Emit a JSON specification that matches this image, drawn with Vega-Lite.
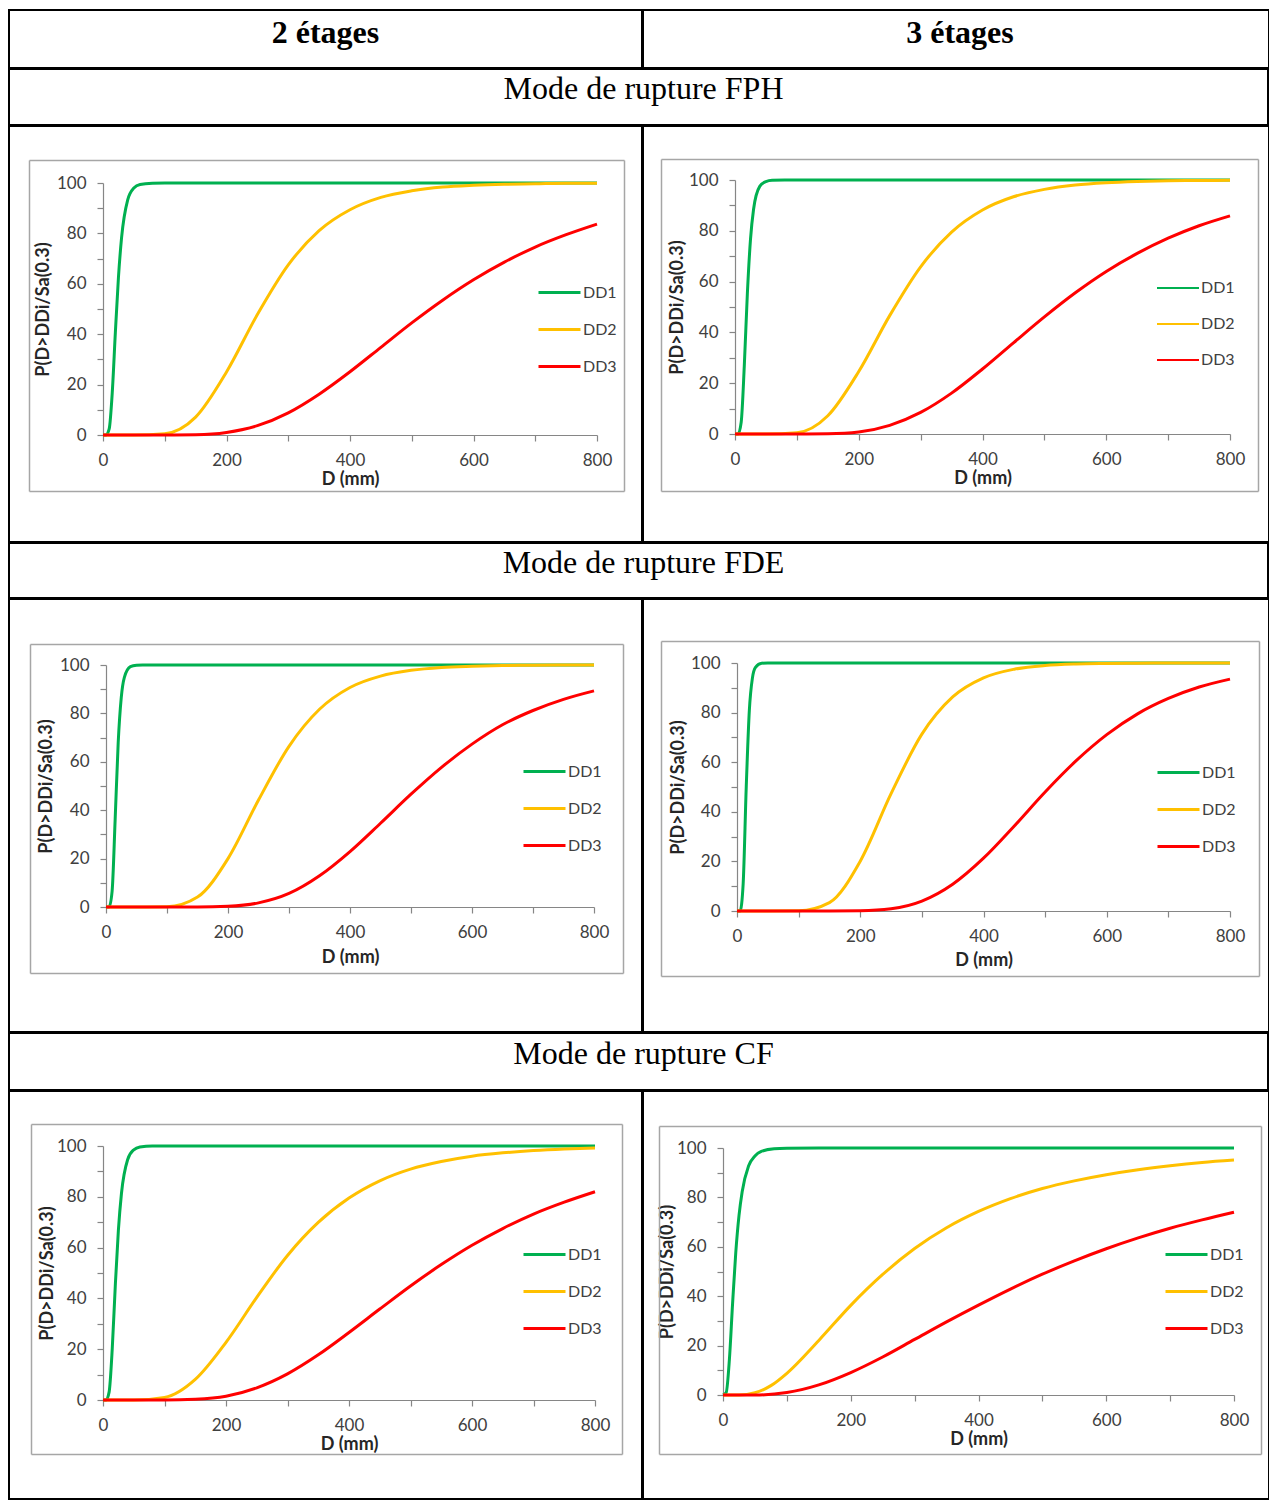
{
  "$schema": "https://vega.github.io/schema/vega-lite/v6.json",
  "padding": {"left": 8, "top": 9, "right": 0, "bottom": 0},
  "spacing": -3,
  "config": {
    "view": {"stroke": "#000000", "strokeWidth": 2},
    "axis": {"domainColor": "#868686", "domainWidth": 1.2, "tickColor": "#868686", "tickWidth": 1.2, "labelColor": "#404040", "labelFont": "Lato", "labelFontSize": 17, "titleFont": "Lato", "titleFontSize": 18, "titleFontWeight": "bold", "titleColor": "#262626", "grid": false, "labelOverlap": false, "labelFlush": false, "tickSize": 6, "labelPadding": 11},
    "legend": {"labelFont": "Lato", "labelFontSize": 16, "labelColor": "#404040", "symbolType": "stroke", "symbolSize": 1764, "symbolStrokeWidth": 3, "rowPadding": 6, "labelOffset": 1, "padding": 0},
    "text": {"font": "Liberation Serif", "fontSize": 32, "color": "#000000", "baseline": "alphabetic"}
  },
  "resolve": {"scale": {"color": "independent"}, "legend": {"color": "independent"}},
  "datasets": {
    "fph2": [
      {"DD":"DD1","D":0,"P":0},{"DD":"DD1","D":5,"P":0},{"DD":"DD1","D":10,"P":2.4},{"DD":"DD1","D":15,"P":16.9},{"DD":"DD1","D":20,"P":40.6},{"DD":"DD1","D":25,"P":62.5},{"DD":"DD1","D":30,"P":78.1},{"DD":"DD1","D":40,"P":93.3},{"DD":"DD1","D":50,"P":98},{"DD":"DD1","D":60,"P":99.4},{"DD":"DD1","D":80,"P":99.9},{"DD":"DD1","D":100,"P":100},{"DD":"DD1","D":200,"P":100},{"DD":"DD1","D":400,"P":100},{"DD":"DD1","D":600,"P":100},{"DD":"DD1","D":800,"P":100},
      {"DD":"DD2","D":0,"P":0},{"DD":"DD2","D":50,"P":0},{"DD":"DD2","D":100,"P":0.5},{"DD":"DD2","D":150,"P":7.1},{"DD":"DD2","D":200,"P":25},{"DD":"DD2","D":250,"P":47.8},{"DD":"DD2","D":300,"P":67.5},{"DD":"DD2","D":350,"P":81.1},{"DD":"DD2","D":400,"P":89.4},{"DD":"DD2","D":450,"P":94.3},{"DD":"DD2","D":500,"P":96.9},{"DD":"DD2","D":550,"P":98.4},{"DD":"DD2","D":600,"P":99.1},{"DD":"DD2","D":650,"P":99.5},{"DD":"DD2","D":700,"P":99.7},{"DD":"DD2","D":750,"P":99.9},{"DD":"DD2","D":800,"P":99.9},
      {"DD":"DD3","D":0,"P":0},{"DD":"DD3","D":50,"P":0},{"DD":"DD3","D":100,"P":0},{"DD":"DD3","D":150,"P":0.1},{"DD":"DD3","D":200,"P":1},{"DD":"DD3","D":250,"P":3.7},{"DD":"DD3","D":300,"P":8.8},{"DD":"DD3","D":350,"P":16.2},{"DD":"DD3","D":400,"P":25.1},{"DD":"DD3","D":450,"P":34.8},{"DD":"DD3","D":500,"P":44.5},{"DD":"DD3","D":550,"P":53.5},{"DD":"DD3","D":600,"P":61.6},{"DD":"DD3","D":650,"P":68.6},{"DD":"DD3","D":700,"P":74.6},{"DD":"DD3","D":750,"P":79.5},{"DD":"DD3","D":800,"P":83.7}
    ],
    "fph3": [
      {"DD":"DD1","D":0,"P":0},{"DD":"DD1","D":5,"P":0},{"DD":"DD1","D":10,"P":4.6},{"DD":"DD1","D":15,"P":26.7},{"DD":"DD1","D":20,"P":55.4},{"DD":"DD1","D":25,"P":76.5},{"DD":"DD1","D":30,"P":88.5},{"DD":"DD1","D":40,"P":97.5},{"DD":"DD1","D":50,"P":99.4},{"DD":"DD1","D":60,"P":99.9},{"DD":"DD1","D":80,"P":100},{"DD":"DD1","D":100,"P":100},{"DD":"DD1","D":200,"P":100},{"DD":"DD1","D":400,"P":100},{"DD":"DD1","D":600,"P":100},{"DD":"DD1","D":800,"P":100},
      {"DD":"DD2","D":0,"P":0},{"DD":"DD2","D":50,"P":0},{"DD":"DD2","D":100,"P":0.5},{"DD":"DD2","D":150,"P":7.2},{"DD":"DD2","D":200,"P":24.6},{"DD":"DD2","D":250,"P":46.6},{"DD":"DD2","D":300,"P":65.8},{"DD":"DD2","D":350,"P":79.5},{"DD":"DD2","D":400,"P":88.2},{"DD":"DD2","D":450,"P":93.4},{"DD":"DD2","D":500,"P":96.3},{"DD":"DD2","D":550,"P":98},{"DD":"DD2","D":600,"P":98.9},{"DD":"DD2","D":650,"P":99.4},{"DD":"DD2","D":700,"P":99.7},{"DD":"DD2","D":750,"P":99.8},{"DD":"DD2","D":800,"P":99.9},
      {"DD":"DD3","D":0,"P":0},{"DD":"DD3","D":50,"P":0},{"DD":"DD3","D":100,"P":0},{"DD":"DD3","D":150,"P":0.1},{"DD":"DD3","D":200,"P":0.8},{"DD":"DD3","D":250,"P":3.4},{"DD":"DD3","D":300,"P":8.5},{"DD":"DD3","D":350,"P":16.1},{"DD":"DD3","D":400,"P":25.6},{"DD":"DD3","D":450,"P":35.9},{"DD":"DD3","D":500,"P":46.1},{"DD":"DD3","D":550,"P":55.6},{"DD":"DD3","D":600,"P":64},{"DD":"DD3","D":650,"P":71.1},{"DD":"DD3","D":700,"P":77.1},{"DD":"DD3","D":750,"P":82},{"DD":"DD3","D":800,"P":85.9}
    ],
    "fde2": [
      {"DD":"DD1","D":0,"P":0},{"DD":"DD1","D":5,"P":0},{"DD":"DD1","D":10,"P":6.5},{"DD":"DD1","D":15,"P":36.1},{"DD":"DD1","D":20,"P":67.9},{"DD":"DD1","D":25,"P":86.5},{"DD":"DD1","D":30,"P":94.8},{"DD":"DD1","D":40,"P":99.3},{"DD":"DD1","D":50,"P":99.9},{"DD":"DD1","D":60,"P":100},{"DD":"DD1","D":80,"P":100},{"DD":"DD1","D":100,"P":100},{"DD":"DD1","D":200,"P":100},{"DD":"DD1","D":400,"P":100},{"DD":"DD1","D":600,"P":100},{"DD":"DD1","D":800,"P":100},
      {"DD":"DD2","D":0,"P":0},{"DD":"DD2","D":50,"P":0},{"DD":"DD2","D":100,"P":0.1},{"DD":"DD2","D":150,"P":4.1},{"DD":"DD2","D":200,"P":20},{"DD":"DD2","D":250,"P":44.2},{"DD":"DD2","D":300,"P":66.4},{"DD":"DD2","D":350,"P":81.7},{"DD":"DD2","D":400,"P":90.7},{"DD":"DD2","D":450,"P":95.4},{"DD":"DD2","D":500,"P":97.8},{"DD":"DD2","D":550,"P":99},{"DD":"DD2","D":600,"P":99.5},{"DD":"DD2","D":650,"P":99.8},{"DD":"DD2","D":700,"P":99.9},{"DD":"DD2","D":750,"P":100},{"DD":"DD2","D":800,"P":100},
      {"DD":"DD3","D":0,"P":0},{"DD":"DD3","D":50,"P":0},{"DD":"DD3","D":100,"P":0},{"DD":"DD3","D":150,"P":0},{"DD":"DD3","D":200,"P":0.3},{"DD":"DD3","D":250,"P":1.7},{"DD":"DD3","D":300,"P":5.6},{"DD":"DD3","D":350,"P":12.9},{"DD":"DD3","D":400,"P":22.9},{"DD":"DD3","D":450,"P":34.6},{"DD":"DD3","D":500,"P":46.6},{"DD":"DD3","D":550,"P":57.7},{"DD":"DD3","D":600,"P":67.3},{"DD":"DD3","D":650,"P":75.3},{"DD":"DD3","D":700,"P":81.2},{"DD":"DD3","D":750,"P":85.8},{"DD":"DD3","D":800,"P":89.3}
    ],
    "fde3": [
      {"DD":"DD1","D":0,"P":0},{"DD":"DD1","D":5,"P":0},{"DD":"DD1","D":10,"P":11},{"DD":"DD1","D":15,"P":50},{"DD":"DD1","D":20,"P":80.8},{"DD":"DD1","D":25,"P":93.9},{"DD":"DD1","D":30,"P":98.2},{"DD":"DD1","D":40,"P":99.9},{"DD":"DD1","D":50,"P":100},{"DD":"DD1","D":60,"P":100},{"DD":"DD1","D":80,"P":100},{"DD":"DD1","D":100,"P":100},{"DD":"DD1","D":200,"P":100},{"DD":"DD1","D":400,"P":100},{"DD":"DD1","D":600,"P":100},{"DD":"DD1","D":800,"P":100},
      {"DD":"DD2","D":0,"P":0},{"DD":"DD2","D":50,"P":0},{"DD":"DD2","D":100,"P":0.1},{"DD":"DD2","D":150,"P":3.4},{"DD":"DD2","D":200,"P":20.1},{"DD":"DD2","D":250,"P":47.3},{"DD":"DD2","D":300,"P":71.3},{"DD":"DD2","D":350,"P":86.3},{"DD":"DD2","D":400,"P":94},{"DD":"DD2","D":450,"P":97.5},{"DD":"DD2","D":500,"P":99},{"DD":"DD2","D":550,"P":99.6},{"DD":"DD2","D":600,"P":99.8},{"DD":"DD2","D":650,"P":99.9},{"DD":"DD2","D":700,"P":100},{"DD":"DD2","D":750,"P":100},{"DD":"DD2","D":800,"P":100},
      {"DD":"DD3","D":0,"P":0},{"DD":"DD3","D":50,"P":0},{"DD":"DD3","D":100,"P":0},{"DD":"DD3","D":150,"P":0},{"DD":"DD3","D":200,"P":0.1},{"DD":"DD3","D":250,"P":0.9},{"DD":"DD3","D":300,"P":4},{"DD":"DD3","D":350,"P":10.8},{"DD":"DD3","D":400,"P":21.3},{"DD":"DD3","D":450,"P":34.3},{"DD":"DD3","D":500,"P":48},{"DD":"DD3","D":550,"P":60.5},{"DD":"DD3","D":600,"P":71.1},{"DD":"DD3","D":650,"P":79.5},{"DD":"DD3","D":700,"P":85.7},{"DD":"DD3","D":750,"P":90.3},{"DD":"DD3","D":800,"P":93.5}
    ],
    "cf2": [
      {"DD":"DD1","D":0,"P":0},{"DD":"DD1","D":5,"P":0},{"DD":"DD1","D":10,"P":3.2},{"DD":"DD1","D":15,"P":20},{"DD":"DD1","D":20,"P":45.1},{"DD":"DD1","D":25,"P":66.8},{"DD":"DD1","D":30,"P":81.3},{"DD":"DD1","D":40,"P":94.6},{"DD":"DD1","D":50,"P":98.5},{"DD":"DD1","D":60,"P":99.6},{"DD":"DD1","D":80,"P":100},{"DD":"DD1","D":100,"P":100},{"DD":"DD1","D":200,"P":100},{"DD":"DD1","D":400,"P":100},{"DD":"DD1","D":600,"P":100},{"DD":"DD1","D":800,"P":100},
      {"DD":"DD2","D":0,"P":0},{"DD":"DD2","D":50,"P":0},{"DD":"DD2","D":100,"P":1},{"DD":"DD2","D":150,"P":8.1},{"DD":"DD2","D":200,"P":22.7},{"DD":"DD2","D":250,"P":40.4},{"DD":"DD2","D":300,"P":56.9},{"DD":"DD2","D":350,"P":69.9},{"DD":"DD2","D":400,"P":79.5},{"DD":"DD2","D":450,"P":86.3},{"DD":"DD2","D":500,"P":90.9},{"DD":"DD2","D":550,"P":93.9},{"DD":"DD2","D":600,"P":96},{"DD":"DD2","D":650,"P":97.3},{"DD":"DD2","D":700,"P":98.2},{"DD":"DD2","D":750,"P":98.8},{"DD":"DD2","D":800,"P":99.2},
      {"DD":"DD3","D":0,"P":0},{"DD":"DD3","D":50,"P":0},{"DD":"DD3","D":100,"P":0},{"DD":"DD3","D":150,"P":0.3},{"DD":"DD3","D":200,"P":1.5},{"DD":"DD3","D":250,"P":4.8},{"DD":"DD3","D":300,"P":10.3},{"DD":"DD3","D":350,"P":17.8},{"DD":"DD3","D":400,"P":26.6},{"DD":"DD3","D":450,"P":35.8},{"DD":"DD3","D":500,"P":44.9},{"DD":"DD3","D":550,"P":53.3},{"DD":"DD3","D":600,"P":60.9},{"DD":"DD3","D":650,"P":67.5},{"DD":"DD3","D":700,"P":73.2},{"DD":"DD3","D":750,"P":77.9},{"DD":"DD3","D":800,"P":82}
    ],
    "cf3": [
      {"DD":"DD1","D":0,"P":0},{"DD":"DD1","D":5,"P":1},{"DD":"DD1","D":10,"P":14.3},{"DD":"DD1","D":15,"P":37},{"DD":"DD1","D":20,"P":57.7},{"DD":"DD1","D":25,"P":72.5},{"DD":"DD1","D":30,"P":82.3},{"DD":"DD1","D":40,"P":92.7},{"DD":"DD1","D":50,"P":96.8},{"DD":"DD1","D":60,"P":98.6},{"DD":"DD1","D":80,"P":99.7},{"DD":"DD1","D":100,"P":99.9},{"DD":"DD1","D":150,"P":100},{"DD":"DD1","D":200,"P":100},{"DD":"DD1","D":400,"P":100},{"DD":"DD1","D":600,"P":100},{"DD":"DD1","D":800,"P":100},
      {"DD":"DD2","D":0,"P":0},{"DD":"DD2","D":25,"P":0},{"DD":"DD2","D":50,"P":0.9},{"DD":"DD2","D":75,"P":3.8},{"DD":"DD2","D":100,"P":8.8},{"DD":"DD2","D":150,"P":22.1},{"DD":"DD2","D":200,"P":36.3},{"DD":"DD2","D":250,"P":48.8},{"DD":"DD2","D":300,"P":59.3},{"DD":"DD2","D":350,"P":67.7},{"DD":"DD2","D":400,"P":74.3},{"DD":"DD2","D":450,"P":79.5},{"DD":"DD2","D":500,"P":83.6},{"DD":"DD2","D":550,"P":86.7},{"DD":"DD2","D":600,"P":89.2},{"DD":"DD2","D":650,"P":91.2},{"DD":"DD2","D":700,"P":92.8},{"DD":"DD2","D":750,"P":94.1},{"DD":"DD2","D":800,"P":95.1},
      {"DD":"DD3","D":0,"P":0},{"DD":"DD3","D":50,"P":0},{"DD":"DD3","D":100,"P":1},{"DD":"DD3","D":150,"P":4.1},{"DD":"DD3","D":200,"P":9.1},{"DD":"DD3","D":250,"P":15.4},{"DD":"DD3","D":300,"P":22.5},{"DD":"DD3","D":350,"P":29.6},{"DD":"DD3","D":400,"P":36.4},{"DD":"DD3","D":450,"P":42.9},{"DD":"DD3","D":500,"P":48.9},{"DD":"DD3","D":550,"P":54.3},{"DD":"DD3","D":600,"P":59.2},{"DD":"DD3","D":650,"P":63.6},{"DD":"DD3","D":700,"P":67.5},{"DD":"DD3","D":750,"P":70.9},{"DD":"DD3","D":800,"P":74}
    ]
  },
  "vconcat": [
    {
      "hconcat": [
        {"width": 633, "height": 58, "view": {"stroke": "#000000", "strokeWidth": 2}, "data": {"values": [{"t": "2 étages"}]}, "mark": {"type": "text", "fontWeight": "bold", "dy": 4}, "encoding": {"text": {"field": "t", "type": "nominal"}}},
        {"width": 626, "height": 58, "view": {"stroke": "#000000", "strokeWidth": 2}, "data": {"values": [{"t": "3 étages"}]}, "mark": {"type": "text", "fontWeight": "bold", "dy": 4, "dx": 4}, "encoding": {"text": {"field": "t", "type": "nominal"}}}
      ],
      "spacing": -3
    },
    {"width": 1259, "height": 56, "view": {"stroke": "#000000", "strokeWidth": 2}, "data": {"values": [{"t": "Mode de rupture FPH"}]}, "mark": {"type": "text", "dy": 2, "dx": 5}, "encoding": {"text": {"field": "t", "type": "nominal"}}},
    {
      "hconcat": [
        {
          "width": 633, "height": 416, "data": {"name": "fph2"},
          "layer": [
            {"mark": {"type": "line", "strokeWidth": 3, "interpolate": "monotone"},
             "encoding": {
               "x": {"field": "D", "type": "quantitative", "scale": {"domain": [0, 800], "range": [94, 588], "nice": false, "zero": false}, "axis": {"orient": "bottom", "offset": -107, "values": [0,100,200,300,400,500,600,700,800], "labelExpr": "datum.value % 200 === 0 ? datum.label : ''", "title": "D (mm)", "titlePadding": 2}},
               "y": {"field": "P", "type": "quantitative", "scale": {"domain": [0, 100], "range": [309, 57], "nice": false, "zero": false}, "axis": {"orient": "left", "offset": -94, "values": [0,10,20,30,40,50,60,70,80,90,100], "labelExpr": "datum.value % 20 === 0 ? datum.label : ''", "title": "P(D>DDi/Sa(0.3)", "titlePadding": 4}},
               "color": {"field": "DD", "type": "nominal", "scale": {"domain": ["DD1","DD2","DD3"], "range": ["#00B050","#FFC000","#FF0000"]}, "legend": {"orient": "none", "legendX": 528, "legendY": 144, "title": null}}
             }},
            {"mark": {"type": "point", "opacity": 0, "size": 0},
             "encoding": {
               "x": {"field": "D", "type": "quantitative", "scale": {"domain": [0, 1], "range": [20, 615], "clamp": true, "nice": false, "zero": false}, "axis": {"orient": "top", "offset": -34, "ticks": false, "labels": false, "title": null, "domainColor": "#a6a6a6", "domainWidth": 1.5}},
               "y": {"field": "P", "type": "quantitative", "scale": {"domain": [0, 1], "range": [365, 34], "clamp": true, "nice": false, "zero": false}, "axis": {"orient": "right", "offset": -18, "ticks": false, "labels": false, "title": null, "domainColor": "#a6a6a6", "domainWidth": 1.5}}
             }},
            {"mark": {"type": "point", "opacity": 0, "size": 0},
             "encoding": {
               "x": {"field": "D", "type": "quantitative", "scale": {"domain": [0, 1], "range": [20, 615], "clamp": true, "nice": false, "zero": false}, "axis": {"orient": "bottom", "offset": -51, "ticks": false, "labels": false, "title": null, "domainColor": "#a6a6a6", "domainWidth": 1.5}},
               "y": {"field": "P", "type": "quantitative", "scale": {"domain": [0, 1], "range": [365, 34], "clamp": true, "nice": false, "zero": false}, "axis": {"orient": "left", "offset": -20, "ticks": false, "labels": false, "title": null, "domainColor": "#a6a6a6", "domainWidth": 1.5}}
             }}
          ],
          "resolve": {"scale": {"x": "independent", "y": "independent"}}
        },
        {
          "width": 626, "height": 416, "data": {"name": "fph3"},
          "layer": [
            {"mark": {"type": "line", "strokeWidth": 3, "interpolate": "monotone"},
             "encoding": {
               "x": {"field": "D", "type": "quantitative", "scale": {"domain": [0, 800], "range": [92, 587], "nice": false, "zero": false}, "axis": {"orient": "bottom", "offset": -108, "values": [0,100,200,300,400,500,600,700,800], "labelExpr": "datum.value % 200 === 0 ? datum.label : ''", "title": "D (mm)", "titlePadding": 2}},
               "y": {"field": "P", "type": "quantitative", "scale": {"domain": [0, 100], "range": [308, 54], "nice": false, "zero": false}, "axis": {"orient": "left", "offset": -92, "values": [0,10,20,30,40,50,60,70,80,90,100], "labelExpr": "datum.value % 20 === 0 ? datum.label : ''", "title": "P(D>DDi/Sa(0.3)", "titlePadding": 2}},
               "color": {"field": "DD", "type": "nominal", "scale": {"domain": ["DD1","DD2","DD3"], "range": ["#00B050","#FFC000","#FF0000"]}, "legend": {"orient": "none", "legendX": 513, "legendY": 140, "title": null, "symbolStrokeWidth": 2}}
             }},
            {"mark": {"type": "point", "opacity": 0, "size": 0},
             "encoding": {
               "x": {"field": "D", "type": "quantitative", "scale": {"domain": [0, 1], "range": [18, 615], "clamp": true, "nice": false, "zero": false}, "axis": {"orient": "top", "offset": -33, "ticks": false, "labels": false, "title": null, "domainColor": "#a6a6a6", "domainWidth": 1.5}},
               "y": {"field": "P", "type": "quantitative", "scale": {"domain": [0, 1], "range": [365, 33], "clamp": true, "nice": false, "zero": false}, "axis": {"orient": "right", "offset": -11, "ticks": false, "labels": false, "title": null, "domainColor": "#a6a6a6", "domainWidth": 1.5}}
             }},
            {"mark": {"type": "point", "opacity": 0, "size": 0},
             "encoding": {
               "x": {"field": "D", "type": "quantitative", "scale": {"domain": [0, 1], "range": [18, 615], "clamp": true, "nice": false, "zero": false}, "axis": {"orient": "bottom", "offset": -51, "ticks": false, "labels": false, "title": null, "domainColor": "#a6a6a6", "domainWidth": 1.5}},
               "y": {"field": "P", "type": "quantitative", "scale": {"domain": [0, 1], "range": [365, 33], "clamp": true, "nice": false, "zero": false}, "axis": {"orient": "left", "offset": -18, "ticks": false, "labels": false, "title": null, "domainColor": "#a6a6a6", "domainWidth": 1.5}}
             }}
          ],
          "resolve": {"scale": {"x": "independent", "y": "independent"}}
        }
      ],
      "spacing": -3,
      "resolve": {"scale": {"color": "independent"}, "legend": {"color": "independent"}}
    },
    {"width": 1259, "height": 55, "view": {"stroke": "#000000", "strokeWidth": 2}, "data": {"values": [{"t": "Mode de rupture FDE"}]}, "mark": {"type": "text", "dy": 2, "dx": 5}, "encoding": {"text": {"field": "t", "type": "nominal"}}},
    {
      "hconcat": [
        {
          "width": 633, "height": 433, "data": {"name": "fde2"},
          "layer": [
            {"mark": {"type": "line", "strokeWidth": 3, "interpolate": "monotone"},
             "encoding": {
               "x": {"field": "D", "type": "quantitative", "scale": {"domain": [0, 800], "range": [97, 585], "nice": false, "zero": false}, "axis": {"orient": "bottom", "offset": -125, "values": [0,100,200,300,400,500,600,700,800], "labelExpr": "datum.value % 200 === 0 ? datum.label : ''", "title": "D (mm)", "titlePadding": 8}},
               "y": {"field": "P", "type": "quantitative", "scale": {"domain": [0, 100], "range": [308, 66], "nice": false, "zero": false}, "axis": {"orient": "left", "offset": -97, "values": [0,10,20,30,40,50,60,70,80,90,100], "labelExpr": "datum.value % 20 === 0 ? datum.label : ''", "title": "P(D>DDi/Sa(0.3)", "titlePadding": 4}},
               "color": {"field": "DD", "type": "nominal", "scale": {"domain": ["DD1","DD2","DD3"], "range": ["#00B050","#FFC000","#FF0000"]}, "legend": {"orient": "none", "legendX": 513, "legendY": 150, "title": null}}
             }},
            {"mark": {"type": "point", "opacity": 0, "size": 0},
             "encoding": {
               "x": {"field": "D", "type": "quantitative", "scale": {"domain": [0, 1], "range": [21, 614], "clamp": true, "nice": false, "zero": false}, "axis": {"orient": "top", "offset": -45, "ticks": false, "labels": false, "title": null, "domainColor": "#a6a6a6", "domainWidth": 1.5}},
               "y": {"field": "P", "type": "quantitative", "scale": {"domain": [0, 1], "range": [374, 45], "clamp": true, "nice": false, "zero": false}, "axis": {"orient": "right", "offset": -19, "ticks": false, "labels": false, "title": null, "domainColor": "#a6a6a6", "domainWidth": 1.5}}
             }},
            {"mark": {"type": "point", "opacity": 0, "size": 0},
             "encoding": {
               "x": {"field": "D", "type": "quantitative", "scale": {"domain": [0, 1], "range": [21, 614], "clamp": true, "nice": false, "zero": false}, "axis": {"orient": "bottom", "offset": -59, "ticks": false, "labels": false, "title": null, "domainColor": "#a6a6a6", "domainWidth": 1.5}},
               "y": {"field": "P", "type": "quantitative", "scale": {"domain": [0, 1], "range": [374, 45], "clamp": true, "nice": false, "zero": false}, "axis": {"orient": "left", "offset": -21, "ticks": false, "labels": false, "title": null, "domainColor": "#a6a6a6", "domainWidth": 1.5}}
             }}
          ],
          "resolve": {"scale": {"x": "independent", "y": "independent"}}
        },
        {
          "width": 626, "height": 433, "data": {"name": "fde3"},
          "layer": [
            {"mark": {"type": "line", "strokeWidth": 3, "interpolate": "monotone"},
             "encoding": {
               "x": {"field": "D", "type": "quantitative", "scale": {"domain": [0, 800], "range": [94, 587], "nice": false, "zero": false}, "axis": {"orient": "bottom", "offset": -121, "values": [0,100,200,300,400,500,600,700,800], "labelExpr": "datum.value % 200 === 0 ? datum.label : ''", "title": "D (mm)", "titlePadding": 7}},
               "y": {"field": "P", "type": "quantitative", "scale": {"domain": [0, 100], "range": [312, 64], "nice": false, "zero": false}, "axis": {"orient": "left", "offset": -94, "values": [0,10,20,30,40,50,60,70,80,90,100], "labelExpr": "datum.value % 20 === 0 ? datum.label : ''", "title": "P(D>DDi/Sa(0.3)", "titlePadding": 3}},
               "color": {"field": "DD", "type": "nominal", "scale": {"domain": ["DD1","DD2","DD3"], "range": ["#00B050","#FFC000","#FF0000"]}, "legend": {"orient": "none", "legendX": 513, "legendY": 151, "title": null}}
             }},
            {"mark": {"type": "point", "opacity": 0, "size": 0},
             "encoding": {
               "x": {"field": "D", "type": "quantitative", "scale": {"domain": [0, 1], "range": [18, 616], "clamp": true, "nice": false, "zero": false}, "axis": {"orient": "top", "offset": -42, "ticks": false, "labels": false, "title": null, "domainColor": "#a6a6a6", "domainWidth": 1.5}},
               "y": {"field": "P", "type": "quantitative", "scale": {"domain": [0, 1], "range": [377, 42], "clamp": true, "nice": false, "zero": false}, "axis": {"orient": "right", "offset": -10, "ticks": false, "labels": false, "title": null, "domainColor": "#a6a6a6", "domainWidth": 1.5}}
             }},
            {"mark": {"type": "point", "opacity": 0, "size": 0},
             "encoding": {
               "x": {"field": "D", "type": "quantitative", "scale": {"domain": [0, 1], "range": [18, 616], "clamp": true, "nice": false, "zero": false}, "axis": {"orient": "bottom", "offset": -56, "ticks": false, "labels": false, "title": null, "domainColor": "#a6a6a6", "domainWidth": 1.5}},
               "y": {"field": "P", "type": "quantitative", "scale": {"domain": [0, 1], "range": [377, 42], "clamp": true, "nice": false, "zero": false}, "axis": {"orient": "left", "offset": -18, "ticks": false, "labels": false, "title": null, "domainColor": "#a6a6a6", "domainWidth": 1.5}}
             }}
          ],
          "resolve": {"scale": {"x": "independent", "y": "independent"}}
        }
      ],
      "spacing": -3,
      "resolve": {"scale": {"color": "independent"}, "legend": {"color": "independent"}}
    },
    {"width": 1259, "height": 57, "view": {"stroke": "#000000", "strokeWidth": 2}, "data": {"values": [{"t": "Mode de rupture CF"}]}, "mark": {"type": "text", "dy": 2, "dx": 5}, "encoding": {"text": {"field": "t", "type": "nominal"}}},
    {
      "hconcat": [
        {
          "width": 633, "height": 408, "data": {"name": "cf2"},
          "layer": [
            {"mark": {"type": "line", "strokeWidth": 3, "interpolate": "monotone"},
             "encoding": {
               "x": {"field": "D", "type": "quantitative", "scale": {"domain": [0, 800], "range": [94, 586], "nice": false, "zero": false}, "axis": {"orient": "bottom", "offset": -99, "values": [0,100,200,300,400,500,600,700,800], "labelExpr": "datum.value % 200 === 0 ? datum.label : ''", "title": "D (mm)", "titlePadding": 2}},
               "y": {"field": "P", "type": "quantitative", "scale": {"domain": [0, 100], "range": [309, 55], "nice": false, "zero": false}, "axis": {"orient": "left", "offset": -94, "values": [0,10,20,30,40,50,60,70,80,90,100], "labelExpr": "datum.value % 20 === 0 ? datum.label : ''", "title": "P(D>DDi/Sa(0.3)", "titlePadding": 0}},
               "color": {"field": "DD", "type": "nominal", "scale": {"domain": ["DD1","DD2","DD3"], "range": ["#00B050","#FFC000","#FF0000"]}, "legend": {"orient": "none", "legendX": 513, "legendY": 141, "title": null}}
             }},
            {"mark": {"type": "point", "opacity": 0, "size": 0},
             "encoding": {
               "x": {"field": "D", "type": "quantitative", "scale": {"domain": [0, 1], "range": [22, 613], "clamp": true, "nice": false, "zero": false}, "axis": {"orient": "top", "offset": -33, "ticks": false, "labels": false, "title": null, "domainColor": "#a6a6a6", "domainWidth": 1.5}},
               "y": {"field": "P", "type": "quantitative", "scale": {"domain": [0, 1], "range": [363, 33], "clamp": true, "nice": false, "zero": false}, "axis": {"orient": "right", "offset": -20, "ticks": false, "labels": false, "title": null, "domainColor": "#a6a6a6", "domainWidth": 1.5}}
             }},
            {"mark": {"type": "point", "opacity": 0, "size": 0},
             "encoding": {
               "x": {"field": "D", "type": "quantitative", "scale": {"domain": [0, 1], "range": [22, 613], "clamp": true, "nice": false, "zero": false}, "axis": {"orient": "bottom", "offset": -45, "ticks": false, "labels": false, "title": null, "domainColor": "#a6a6a6", "domainWidth": 1.5}},
               "y": {"field": "P", "type": "quantitative", "scale": {"domain": [0, 1], "range": [363, 33], "clamp": true, "nice": false, "zero": false}, "axis": {"orient": "left", "offset": -22, "ticks": false, "labels": false, "title": null, "domainColor": "#a6a6a6", "domainWidth": 1.5}}
             }}
          ],
          "resolve": {"scale": {"x": "independent", "y": "independent"}}
        },
        {
          "width": 626, "height": 408, "data": {"name": "cf3"},
          "layer": [
            {"mark": {"type": "line", "strokeWidth": 3, "interpolate": "monotone"},
             "encoding": {
               "x": {"field": "D", "type": "quantitative", "scale": {"domain": [0, 800], "range": [80, 591], "nice": false, "zero": false}, "axis": {"orient": "bottom", "offset": -104, "values": [0,100,200,300,400,500,600,700,800], "labelExpr": "datum.value % 200 === 0 ? datum.label : ''", "title": "D (mm)", "titlePadding": 2}},
               "y": {"field": "P", "type": "quantitative", "scale": {"domain": [0, 100], "range": [304, 57], "nice": false, "zero": false}, "axis": {"orient": "left", "offset": -80, "values": [0,10,20,30,40,50,60,70,80,90,100], "labelExpr": "datum.value % 20 === 0 ? datum.label : ''", "title": "P(D>DDi/Sa(0.3)", "titlePadding": 0}},
               "color": {"field": "DD", "type": "nominal", "scale": {"domain": ["DD1","DD2","DD3"], "range": ["#00B050","#FFC000","#FF0000"]}, "legend": {"orient": "none", "legendX": 521, "legendY": 141, "title": null}}
             }},
            {"mark": {"type": "point", "opacity": 0, "size": 0},
             "encoding": {
               "x": {"field": "D", "type": "quantitative", "scale": {"domain": [0, 1], "range": [16, 618], "clamp": true, "nice": false, "zero": false}, "axis": {"orient": "top", "offset": -35, "ticks": false, "labels": false, "title": null, "domainColor": "#a6a6a6", "domainWidth": 1.5}},
               "y": {"field": "P", "type": "quantitative", "scale": {"domain": [0, 1], "range": [363, 35], "clamp": true, "nice": false, "zero": false}, "axis": {"orient": "right", "offset": -8, "ticks": false, "labels": false, "title": null, "domainColor": "#a6a6a6", "domainWidth": 1.5}}
             }},
            {"mark": {"type": "point", "opacity": 0, "size": 0},
             "encoding": {
               "x": {"field": "D", "type": "quantitative", "scale": {"domain": [0, 1], "range": [16, 618], "clamp": true, "nice": false, "zero": false}, "axis": {"orient": "bottom", "offset": -45, "ticks": false, "labels": false, "title": null, "domainColor": "#a6a6a6", "domainWidth": 1.5}},
               "y": {"field": "P", "type": "quantitative", "scale": {"domain": [0, 1], "range": [363, 35], "clamp": true, "nice": false, "zero": false}, "axis": {"orient": "left", "offset": -16, "ticks": false, "labels": false, "title": null, "domainColor": "#a6a6a6", "domainWidth": 1.5}}
             }}
          ],
          "resolve": {"scale": {"x": "independent", "y": "independent"}}
        }
      ],
      "spacing": -3,
      "resolve": {"scale": {"color": "independent"}, "legend": {"color": "independent"}}
    }
  ]
}
